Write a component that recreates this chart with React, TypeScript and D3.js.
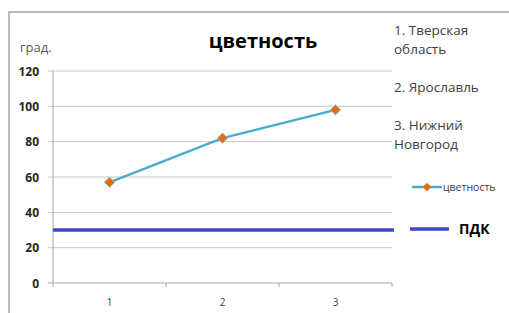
import React, { useEffect, useRef } from 'react';
import * as d3 from 'd3';

const categories = ['1', '2', '3'];
const colorValues = [57, 82, 98];
const pdkValue = 30;
const yTicks = [0, 20, 40, 60, 80, 100, 120];
const regionNotes = [['1. Тверская', 'область'], ['2. Ярославль'], ['3. Нижний', 'Новгород']];

const W = 509;
const H = 313;
const FONT = '"Open Sans", "DejaVu Sans", sans-serif';

export default function App() {
  const ref = useRef<SVGSVGElement>(null);

  useEffect(() => {
    const svg = d3.select(ref.current);
    svg.selectAll('*').remove();

    const plot = { left: 53, right: 392, top: 71, bottom: 283 };

    const x = d3.scaleBand().domain(categories).range([plot.left, plot.right]);
    const y = d3.scaleLinear().domain([0, 120]).range([plot.bottom, plot.top]);
    const cx = (c: string) => (x(c) as number) + x.bandwidth() / 2;

    // chart frame
    svg
      .append('rect')
      .attr('x', 9)
      .attr('y', 12)
      .attr('width', W + 20)
      .attr('height', H + 20)
      .attr('fill', 'white')
      .attr('stroke', '#a6a6a6')
      .attr('stroke-width', 1.5);

    // gridlines
    svg
      .append('g')
      .selectAll('line')
      .data(yTicks)
      .enter()
      .append('line')
      .attr('x1', plot.left - 5)
      .attr('x2', plot.right)
      .attr('y1', d => y(d))
      .attr('y2', d => y(d))
      .attr('stroke', d => (d === 0 ? '#a6a6a6' : '#c8c8c8'))
      .attr('stroke-width', 1);

    // y axis line
    svg
      .append('line')
      .attr('x1', plot.left)
      .attr('x2', plot.left)
      .attr('y1', plot.top)
      .attr('y2', plot.bottom + 4)
      .attr('stroke', '#a6a6a6');

    // x tick marks at band boundaries
    const bounds = categories.map(c => x(c) as number).concat([plot.right]);
    svg
      .append('g')
      .selectAll('line')
      .data(bounds.slice(1))
      .enter()
      .append('line')
      .attr('x1', d => d)
      .attr('x2', d => d)
      .attr('y1', plot.bottom)
      .attr('y2', plot.bottom + 4)
      .attr('stroke', '#a6a6a6');

    // y tick labels
    svg
      .append('g')
      .selectAll('text')
      .data(yTicks)
      .enter()
      .append('text')
      .attr('x', 39)
      .attr('y', d => y(d) + 4.5)
      .attr('text-anchor', 'end')
      .attr('font-family', FONT)
      .attr('font-size', 12)
      .attr('font-weight', 'bold')
      .attr('fill', '#262626')
      .text(d => d);

    // x tick labels
    svg
      .append('g')
      .selectAll('text')
      .data(categories)
      .enter()
      .append('text')
      .attr('x', d => cx(d))
      .attr('y', 306)
      .attr('text-anchor', 'middle')
      .attr('font-family', FONT)
      .attr('font-size', 10)
      .attr('fill', '#404040')
      .text(d => d);

    // ПДК line
    svg
      .append('line')
      .attr('x1', plot.left)
      .attr('x2', plot.right + 2)
      .attr('y1', y(pdkValue))
      .attr('y2', y(pdkValue))
      .attr('stroke', '#3f48cc')
      .attr('stroke-width', 3.5);

    // series line
    const line = d3
      .line<number>()
      .x((_, i) => cx(categories[i]))
      .y(d => y(d));

    svg
      .append('path')
      .datum(colorValues)
      .attr('d', line)
      .attr('fill', 'none')
      .attr('stroke', '#4bacc6')
      .attr('stroke-width', 2.5);

    const diamond = d3.symbol().type(d3.symbolDiamond2).size(70);
    svg
      .append('g')
      .selectAll('path')
      .data(colorValues)
      .enter()
      .append('path')
      .attr('d', diamond)
      .attr('transform', (d, i) => `translate(${cx(categories[i])},${y(d)})`)
      .attr('fill', '#e36c09')
      .attr('stroke', '#8ccfe0')
      .attr('stroke-width', 1);

    // title + unit
    svg
      .append('text')
      .attr('x', 263)
      .attr('y', 48)
      .attr('text-anchor', 'middle')
      .attr('font-family', FONT)
      .attr('font-size', 20)
      .attr('font-weight', 'bold')
      .attr('fill', '#000')
      .text('цветность');

    svg
      .append('text')
      .attr('x', 20)
      .attr('y', 52)
      .attr('font-family', FONT)
      .attr('font-size', 13)
      .attr('fill', '#595959')
      .text('град.');

    // region notes
    const notesY = [35, 92, 130];
    regionNotes.forEach((lines, i) => {
      const t = svg
        .append('text')
        .attr('font-family', FONT)
        .attr('font-size', 13.5)
        .attr('fill', '#404040');
      lines.forEach((s, j) => {
        t.append('tspan')
          .attr('x', 394)
          .attr('y', notesY[i] + j * 18.5)
          .text(s);
      });
    });

    // legend: цветность
    const lg = svg.append('g');
    lg.append('line')
      .attr('x1', 412)
      .attr('x2', 442)
      .attr('y1', 187)
      .attr('y2', 187)
      .attr('stroke', '#4bacc6')
      .attr('stroke-width', 2.5);
    lg.append('path')
      .attr('d', d3.symbol().type(d3.symbolDiamond2).size(45))
      .attr('transform', 'translate(427,187)')
      .attr('fill', '#e36c09');
    lg.append('text')
      .attr('x', 443)
      .attr('y', 191)
      .attr('font-family', FONT)
      .attr('font-size', 10.5)
      .attr('fill', '#404040')
      .text('цветность');

    // legend: ПДК
    lg.append('line')
      .attr('x1', 410)
      .attr('x2', 449)
      .attr('y1', 229)
      .attr('y2', 229)
      .attr('stroke', '#3f48cc')
      .attr('stroke-width', 3.5);
    lg.append('text')
      .attr('x', 459)
      .attr('y', 234)
      .attr('font-family', FONT)
      .attr('font-size', 14)
      .attr('font-weight', 'bold')
      .attr('fill', '#000')
      .text('ПДК');
  }, []);

  return (
    <svg
      ref={ref}
      width={W}
      height={H}
      style={{ position: 'absolute', left: 0, top: 0, background: 'white' }}
    />
  );
}
